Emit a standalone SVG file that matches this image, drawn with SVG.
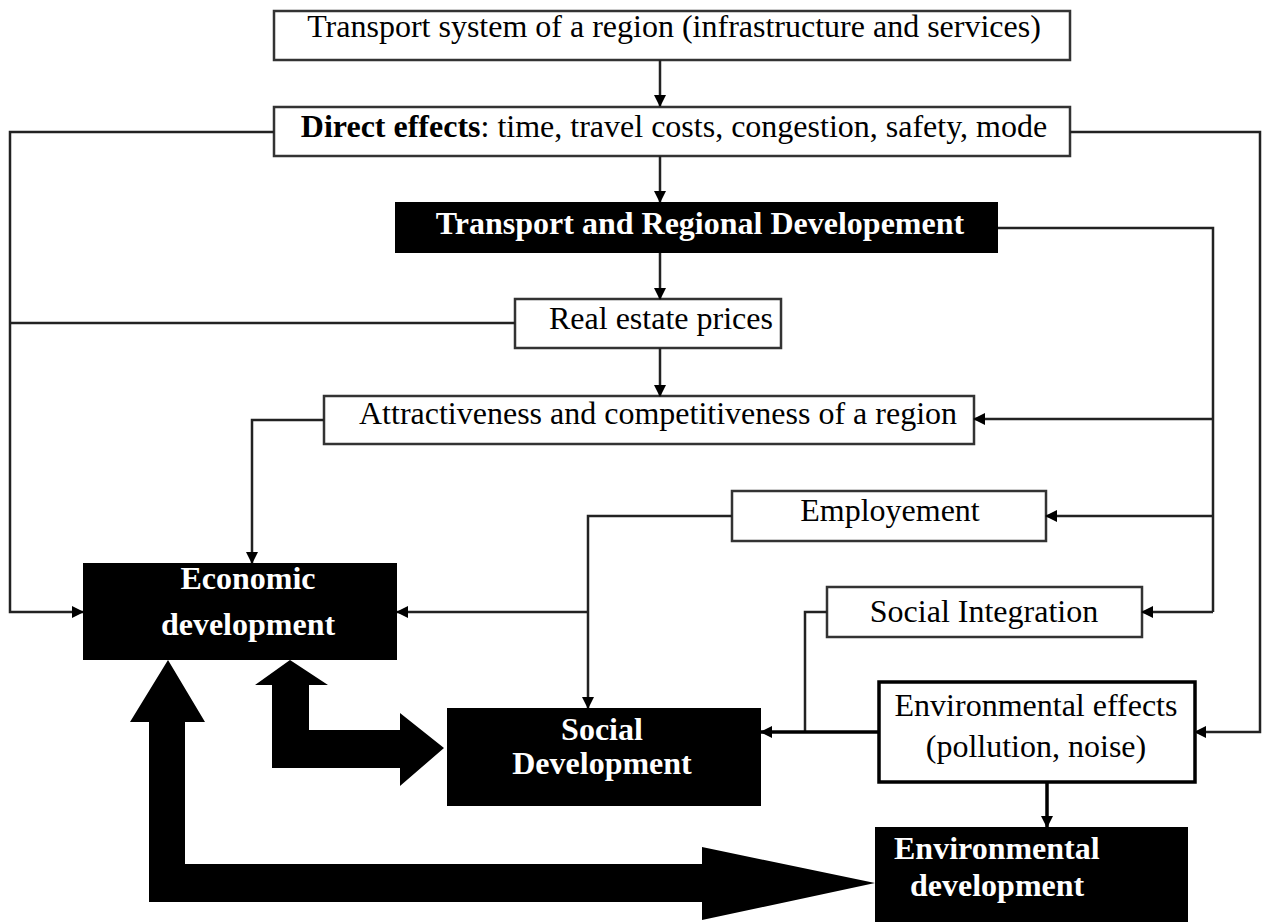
<svg xmlns="http://www.w3.org/2000/svg" width="1264" height="922" viewBox="0 0 1264 922">
  <defs>
    <style>
      .box { fill: #ffffff; stroke: #333333; stroke-width: 2.5; }
      .box-strong { fill: #ffffff; stroke: #000000; stroke-width: 3.5; }
      .dark { fill: #000000; }
      .lbl { font-family: "Liberation Serif", "Times New Roman", serif; font-size: 32px; fill: #000000; }
      .lbl-w { font-family: "Liberation Serif", "Times New Roman", serif; font-size: 32px; font-weight: bold; fill: #ffffff; }
      .wire { fill: none; stroke: #222222; stroke-width: 2.5; }
      .wire-strong { fill: none; stroke: #000000; stroke-width: 3.5; }
      .fat { fill: #000000; }
    </style>
    <marker id="tip" viewBox="0 0 12 12" refX="11" refY="6" markerWidth="12" markerHeight="12" markerUnits="userSpaceOnUse" orient="auto">
      <path d="M0,0 L12,6 L0,12 Z" fill="#000000"/>
    </marker>
  </defs>

  <!-- nodes -->
  <g id="transport-system">
    <rect class="box" x="274" y="11" width="796" height="49"/>
    <text class="lbl" x="674" y="37" text-anchor="middle">Transport system of a region (infrastructure and services)</text>
  </g>

  <g id="direct-effects">
    <rect class="box" x="274" y="107" width="796" height="49"/>
    <text class="lbl" x="674" y="137" text-anchor="middle"><tspan font-weight="bold">Direct effects</tspan>: time, travel costs, congestion, safety, mode</text>
  </g>

  <g id="transport-regional">
    <rect class="dark" x="395" y="202" width="603" height="51"/>
    <text class="lbl-w" x="700" y="234" text-anchor="middle">Transport and Regional Developement</text>
  </g>

  <g id="real-estate">
    <rect class="box" x="515" y="299" width="266" height="49"/>
    <text class="lbl" x="549" y="329">Real estate prices</text>
  </g>

  <g id="attractiveness">
    <rect class="box" x="324" y="396" width="650" height="48"/>
    <text class="lbl" x="658" y="424" text-anchor="middle">Attractiveness and competitiveness of a region</text>
  </g>

  <g id="employment">
    <rect class="box" x="732" y="491" width="314" height="50"/>
    <text class="lbl" x="890" y="521" text-anchor="middle">Employement</text>
  </g>

  <g id="social-integration">
    <rect class="box" x="827" y="587" width="315" height="50"/>
    <text class="lbl" x="984" y="622" text-anchor="middle">Social Integration</text>
  </g>

  <g id="environmental-effects">
    <rect class="box-strong" x="879" y="682" width="316" height="100"/>
    <text class="lbl" x="1036" y="716" text-anchor="middle">Environmental effects</text>
    <text class="lbl" x="1036" y="757" text-anchor="middle">(pollution, noise)</text>
  </g>

  <g id="economic-development">
    <rect class="dark" x="83" y="563" width="314" height="97"/>
    <text class="lbl-w" x="248" y="589" text-anchor="middle">Economic</text>
    <text class="lbl-w" x="248" y="635" text-anchor="middle">development</text>
  </g>

  <g id="social-development">
    <rect class="dark" x="447" y="708" width="314" height="98"/>
    <text class="lbl-w" x="602" y="740" text-anchor="middle">Social</text>
    <text class="lbl-w" x="602" y="774" text-anchor="middle">Development</text>
  </g>

  <g id="environmental-development">
    <rect class="dark" x="875" y="827" width="313" height="95"/>
    <text class="lbl-w" x="894" y="859">Environmental</text>
    <text class="lbl-w" x="910" y="896">development</text>
  </g>

  <!-- connectors -->
  <g id="connectors">
    <!-- main vertical chain -->
    <path class="wire" d="M660,60 V106" marker-end="url(#tip)"/>
    <path class="wire" d="M660,156 V202" marker-end="url(#tip)"/>
    <path class="wire" d="M660,253 V299" marker-end="url(#tip)"/>
    <path class="wire" d="M660,348 V396" marker-end="url(#tip)"/>

    <!-- left trunk: direct effects and real estate into economic development -->
    <path class="wire" d="M274,132 H10 V612 H83" marker-end="url(#tip)"/>
    <path class="wire" d="M515,323 H10"/>
    <path class="wire" d="M324,420 H252 V563" marker-end="url(#tip)"/>

    <!-- employment branch -->
    <path class="wire" d="M732,516 H588 V708" marker-end="url(#tip)"/>
    <path class="wire" d="M588,612 H397" marker-end="url(#tip)"/>

    <!-- social integration and environmental effects into social development -->
    <path class="wire" d="M827,612 H805 V732"/>
    <path class="wire-strong" d="M879,732 H761" marker-end="url(#tip)"/>

    <!-- regional development trunk on the right -->
    <path class="wire" d="M998,228 H1213 V612"/>
    <path class="wire" d="M1213,419 H974" marker-end="url(#tip)"/>
    <path class="wire" d="M1213,516 H1046" marker-end="url(#tip)"/>
    <path class="wire" d="M1213,612 H1142" marker-end="url(#tip)"/>

    <!-- outer right trunk from direct effects -->
    <path class="wire" d="M1070,132 H1260 V732 H1195" marker-end="url(#tip)"/>

    <!-- environmental effects to environmental development -->
    <path class="wire-strong" d="M1047,782 V827" marker-end="url(#tip)"/>

    <!-- broad two-way arrows -->
    <polygon class="fat" points="290,660 328,685 309,685 309,730 400,730 400,713 444,748 400,786 400,768 272,768 272,685 255,685"/>
    <polygon class="fat" points="168,660 205,722 185,722 185,864 702,864 702,847 875,883 702,920 702,902 149,902 149,722 130,722"/>
  </g>
</svg>
